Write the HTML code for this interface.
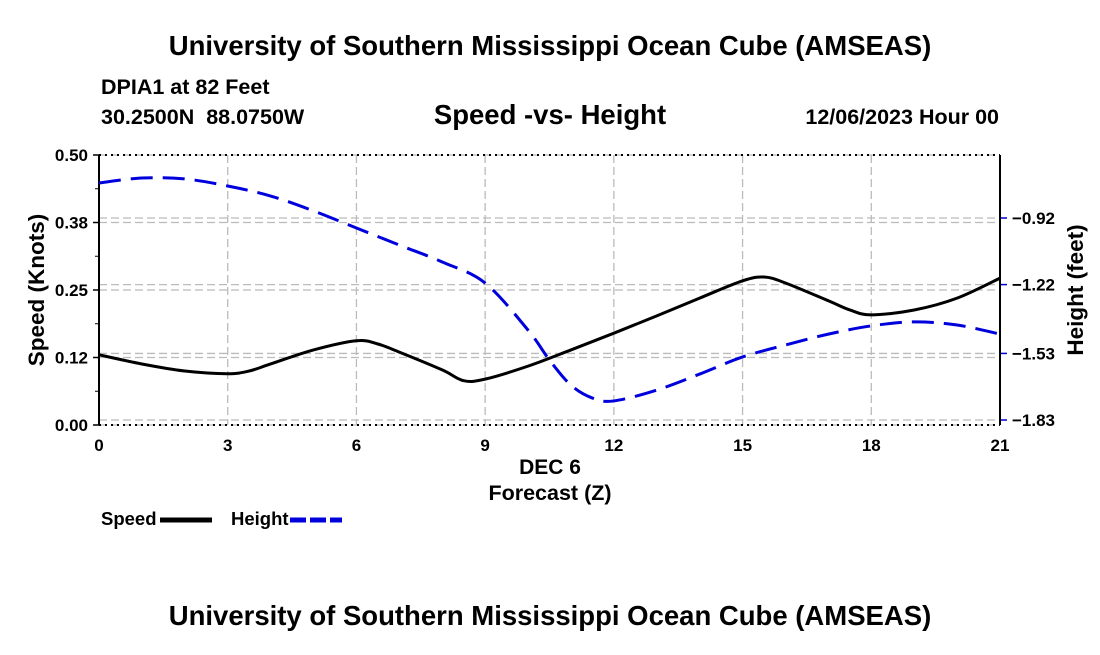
<!DOCTYPE html>
<html><head><meta charset="utf-8"><style>
body{margin:0;background:#fff;}
svg text{font-family:"Liberation Sans",sans-serif;font-weight:bold;fill:#000;white-space:pre;}
</style></head><body>
<svg id="chart" width="1100" height="650" xmlns="http://www.w3.org/2000/svg">
<text x="550" y="55" font-size="27.5" text-anchor="middle">University of Southern Mississippi Ocean Cube (AMSEAS)</text>
<text x="101" y="94" font-size="21.5">DPIA1 at 82 Feet</text>
<text x="101" y="124" font-size="21.5" xml:space="preserve">30.2500N  88.0750W</text>
<text x="550" y="124" font-size="27.5" text-anchor="middle">Speed -vs- Height</text>
<text x="999" y="124" font-size="21.5" text-anchor="end">12/06/2023 Hour 00</text>
<g id="grid"></g><g id="axes"></g><g id="series"></g>
<text x="550" y="474" font-size="21" text-anchor="middle">DEC 6</text>
<text x="550" y="500" font-size="21.5" text-anchor="middle">Forecast (Z)</text>
<text transform="translate(44,290) rotate(-90)" font-size="22.5" text-anchor="middle">Speed (Knots)</text>
<text transform="translate(1083,290) rotate(-90)" font-size="22.5" text-anchor="middle">Height (feet)</text>
<g><text x="101" y="525" font-size="18.5">Speed</text><line x1="160" y1="520" x2="212" y2="520" stroke="#000" stroke-width="5"/></g>
<g><text x="231" y="525" font-size="18.5">Height</text><line x1="290" y1="520" x2="342" y2="520" stroke="#0000dd" stroke-width="5" stroke-dasharray="16,4"/></g>
<text x="550" y="625" font-size="27.5" text-anchor="middle">University of Southern Mississippi Ocean Cube (AMSEAS)</text>
</svg>
<script>
const speedHours=[0,1,2,3,3.5,4,5,6,6.5,7,8,8.5,9,10,11,12,13,14,15,15.5,16,17,17.5,18,19,20,21];
const speedValues=[0.13,0.113,0.10,0.095,0.10,0.113,0.139,0.156,0.15,0.135,0.102,0.082,0.085,0.109,0.139,0.17,0.202,0.235,0.267,0.274,0.263,0.23,0.213,0.204,0.213,0.235,0.272];
const heightHours=[0,1,2,3,4,5,6,7,8,9,10,10.5,11,11.5,12,13,14,15,16,17,18,19,20,21];
const heightValues=[-0.762,-0.74,-0.744,-0.776,-0.821,-0.888,-0.965,-1.042,-1.118,-1.213,-1.425,-1.56,-1.673,-1.731,-1.744,-1.695,-1.623,-1.546,-1.492,-1.443,-1.406,-1.388,-1.402,-1.443];
const xTicks=[0,3,6,9,12,15,18,21];
const leftTicks=[0,0.125,0.25,0.375,0.5];
const leftTickLabels=["0.00","0.12","0.25","0.38","0.50"];
const rightTicks=[-0.92,-1.22,-1.53,-1.83];
const rightTickLabels=["\u22120.92","\u22121.22","\u22121.53","\u22121.83"];
const X0=99,X1=1000,YT=155,YB=425;
const xs=h=>X0+(X1-X0)*h/21;
const ys=v=>YB-(YB-YT)*v/0.5;
const yh=h=>218+(-0.92-h)*222;
const NS="http://www.w3.org/2000/svg";
function mk(tag,attrs,parent){const e=document.createElementNS(NS,tag);for(const k in attrs)e.setAttribute(k,attrs[k]);parent.appendChild(e);return e;}
const grid=document.getElementById('grid'),axes=document.getElementById('axes'),series=document.getElementById('series');
xTicks.forEach((t,i)=>{
 const l=mk('line',{x1:xs(t),x2:xs(t),y1:YT,y2:YB,stroke:'#bbb','stroke-width':1.3,'stroke-dasharray':'8,4'},grid);
 
 
 const tx=mk('text',{x:xs(t),y:451,'font-size':17,'text-anchor':'middle'},axes);tx.textContent=t;
 
 
});
leftTicks.forEach((t,i)=>{
 const l=mk('line',{x1:X0,x2:X1,y1:ys(t),y2:ys(t),stroke:'#bbb','stroke-width':1.3,'stroke-dasharray':'8,4'},grid);
 
 
 mk('line',{x1:X0-6,x2:X0,y1:ys(t),y2:ys(t),stroke:'#000','stroke-width':1.5},axes);
 const tx=mk('text',{x:X0-11,y:ys(t)+6,'font-size':17,'text-anchor':'end'},axes);tx.textContent=leftTickLabels[i];
 
 
});
for(let v=0.0625;v<0.5;v+=0.125)mk('line',{x1:X0-4,x2:X0,y1:ys(v),y2:ys(v),stroke:'#000','stroke-width':1},axes);
rightTicks.forEach((t,i)=>{
 const l=mk('line',{x1:X0,x2:X1,y1:yh(t),y2:yh(t),stroke:'#bbb','stroke-width':1.3,'stroke-dasharray':'8,4'},grid);
 
 
 mk('line',{x1:X1,x2:X1+7,y1:yh(t),y2:yh(t),stroke:'#0000cc','stroke-width':1.5},axes);
 const tx=mk('text',{x:X1+12,y:yh(t)+6,'font-size':17},axes);tx.textContent=rightTickLabels[i];
 
 
});
mk('line',{x1:X0,x2:X1,y1:YT,y2:YT,stroke:'#000','stroke-width':2,'stroke-dasharray':'2,4'},axes);
mk('line',{x1:X0,x2:X1,y1:YB,y2:YB,stroke:'#000','stroke-width':2,'stroke-dasharray':'2,4'},axes);
mk('line',{x1:X0,x2:X0,y1:YT,y2:YB,stroke:'#000','stroke-width':2},axes);
mk('line',{x1:X1,x2:X1,y1:YT,y2:YB,stroke:'#000','stroke-width':2},axes);
function smooth(pts){let d=`M${pts[0][0]},${pts[0][1]}`;for(let i=0;i<pts.length-1;i++){const p0=pts[Math.max(i-1,0)],p1=pts[i],p2=pts[i+1],p3=pts[Math.min(i+2,pts.length-1)];
 const c1=[p1[0]+(p2[0]-p0[0])/6,p1[1]+(p2[1]-p0[1])/6],c2=[p2[0]-(p3[0]-p1[0])/6,p2[1]-(p3[1]-p1[1])/6];
 d+=` C${c1[0]},${c1[1]} ${c2[0]},${c2[1]} ${p2[0]},${p2[1]}`;}return d;}
const hp=mk('path',{d:smooth(heightHours.map((h,i)=>[xs(h),yh(heightValues[i])])),fill:'none',stroke:'#0000dd','stroke-width':3,'stroke-dasharray':'22,10'},series);


const sp=mk('path',{d:smooth(speedHours.map((h,i)=>[xs(h),ys(speedValues[i])])),fill:'none',stroke:'#000','stroke-width':3},series);


</script>
</body></html>
